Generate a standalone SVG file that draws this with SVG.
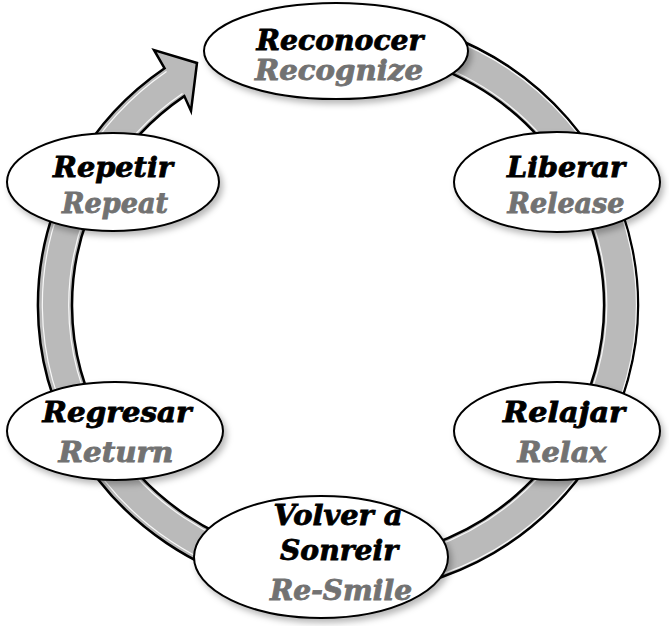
<svg xmlns="http://www.w3.org/2000/svg" width="669" height="626" viewBox="0 0 669 626">
  <style>
    .node { fill: #ffffff; stroke: #000000; stroke-width: 2; filter: url(#shadow); }
    .es { font-family: "DejaVu Serif", "Liberation Serif", serif; font-weight: bold; font-style: italic; font-size: 27px; fill: #000000; stroke: #000000; stroke-width: 0.8; text-anchor: middle; }
    .en { font-family: "DejaVu Serif", "Liberation Serif", serif; font-weight: bold; font-style: italic; font-size: 27px; fill: #727272; stroke: #727272; stroke-width: 0.8; text-anchor: middle; }
    .band { fill: #bababa; stroke: #000000; stroke-width: 2.5; stroke-linejoin: miter; }
    .hl { fill: none; stroke: #ffffff; stroke-width: 1.2; opacity: 0.9; }
  </style>
  <defs>
    <filter id="shadow" x="-20%" y="-20%" width="140%" height="150%">
      <feDropShadow dx="3" dy="4" stdDeviation="3" flood-color="#000000" flood-opacity="0.28"/>
    </filter>
  </defs>
  <rect width="669" height="626" fill="#ffffff"/>

  <g id="connectors">
    <path class="band" d="M 311.9 16.1 A 300 290 0 1 1 164.6 68.3 L 154 50 L 197 63 L 191 111 L 184.3 96.1 A 266 256 0 1 0 314.8 50 Z"/>
    <path class="hl" d="M 312.1 19.1 A 297 287 0 1 1 166.5 71.5"/>
    <path class="hl" d="M 314.6 47 A 269 259 0 1 1 182.5 93.5"/>
  </g>

  <g id="node-reconocer">
    <ellipse class="node" cx="336" cy="51" rx="132" ry="48"/>
    <text class="es" x="340" y="50" textLength="167" lengthAdjust="spacingAndGlyphs">Reconocer</text>
    <text class="en" x="339" y="80" textLength="168" lengthAdjust="spacingAndGlyphs">Recognize</text>
  </g>

  <g id="node-liberar">
    <ellipse class="node" cx="557" cy="182" rx="103" ry="50"/>
    <text class="es" x="566" y="177" textLength="118" lengthAdjust="spacingAndGlyphs">Liberar</text>
    <text class="en" x="566" y="213" textLength="117" lengthAdjust="spacingAndGlyphs">Release</text>
  </g>

  <g id="node-relajar">
    <ellipse class="node" cx="557" cy="431" rx="103" ry="49"/>
    <text class="es" x="564" y="422" textLength="122" lengthAdjust="spacingAndGlyphs">Relajar</text>
    <text class="en" x="562" y="462" textLength="89" lengthAdjust="spacingAndGlyphs">Relax</text>
  </g>

  <g id="node-volver">
    <ellipse class="node" cx="321" cy="557" rx="127" ry="61"/>
    <text class="es" x="338" y="525" textLength="129" lengthAdjust="spacingAndGlyphs">Volver a</text>
    <text class="es" x="339" y="560" textLength="118" lengthAdjust="spacingAndGlyphs">Sonreir</text>
    <text class="en" x="341" y="600" textLength="142" lengthAdjust="spacingAndGlyphs">Re-Smile</text>
  </g>

  <g id="node-regresar">
    <ellipse class="node" cx="115" cy="431" rx="108" ry="49"/>
    <text class="es" x="117" y="422" textLength="149" lengthAdjust="spacingAndGlyphs">Regresar</text>
    <text class="en" x="116" y="462" textLength="115" lengthAdjust="spacingAndGlyphs">Return</text>
  </g>

  <g id="node-repetir">
    <ellipse class="node" cx="113" cy="182" rx="106" ry="49"/>
    <text class="es" x="113" y="177" textLength="120" lengthAdjust="spacingAndGlyphs">Repetir</text>
    <text class="en" x="115" y="213" textLength="106" lengthAdjust="spacingAndGlyphs">Repeat</text>
  </g>
</svg>
